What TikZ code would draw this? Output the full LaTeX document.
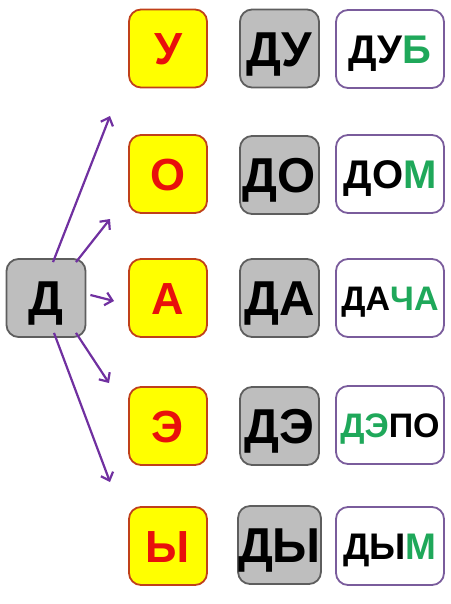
\documentclass[tikz,border=0pt]{standalone}
\usepackage{fontspec}
\setmainfont{Liberation Sans}
\usetikzlibrary{arrows.meta}
\definecolor{yel}{HTML}{FFFF00}
\definecolor{yelb}{HTML}{C0401A}
\definecolor{redt}{HTML}{E8100C}
\definecolor{grayf}{HTML}{BEBEBE}
\definecolor{grayb}{HTML}{5E5E5E}
\definecolor{purb}{HTML}{7A5C9C}
\definecolor{arr}{HTML}{7030A0}
\definecolor{grn}{HTML}{1FA85A}
\tikzset{
  ybox/.style={draw=yelb, fill=yel, line width=1.8pt, rounded corners=12pt,
    minimum width=78pt, minimum height=78pt, inner sep=0pt,
    text=redt, font=\fontsize{45}{45}\selectfont\bfseries,
    text height=32.2pt, text depth=0pt},
  gbox/.style={draw=grayb, fill=grayf, line width=1.8pt, rounded corners=12pt,
    minimum width=79pt, minimum height=78pt, inner sep=0pt,
    font=\fontsize{49}{49}\selectfont\bfseries,
    text height=35.1pt, text depth=0pt},
  wbox/.style={draw=purb, fill=white, line width=1.8pt, rounded corners=12pt,
    minimum width=108pt, minimum height=78pt, inner sep=0pt},
  wbig/.style={font=\fontsize{40}{40}\selectfont\bfseries, text height=28.6pt, text depth=0pt},
  wmid/.style={font=\fontsize{37}{37}\selectfont\bfseries, text height=26.5pt, text depth=0pt},
  wsmall/.style={font=\fontsize{34}{34}\selectfont\bfseries, text height=24.3pt, text depth=0pt},
  con/.style={draw=arr, line width=2.2pt, -{Straight Barb[length=7pt,width=13pt,line width=2.2pt]}}
}
\begin{document}
\begin{tikzpicture}[x=1pt,y=-1pt]
\useasboundingbox (0,0) rectangle (450,604);
% left node
\node[gbox] (d) at (46,298) {Д};
% vowels
\node[ybox] (v1) at (168,48.5) {У};
\node[ybox] (v2) at (168,174) {О};
\node[ybox] (v3) at (168,298) {А};
\node[ybox] (v4) at (168,426) {Э};
\node[ybox] (v5) at (168,546) {Ы};
% syllables
\node[gbox] (s1) at (279.5,48.5) {ДУ};
\node[gbox] (s2) at (279.5,175) {ДО};
\node[gbox] (s3) at (279.5,298) {ДА};
\node[gbox] (s4) at (279.5,426) {ДЭ};
\node[gbox] (s5) at (279.5,545) {ДЫ};
% words
\node[wbox,wbig] (w1) at (390,49) {ДУ\textcolor{grn}{Б}};
\node[wbox,wbig] (w2) at (390,174) {ДО\textcolor{grn}{М}};
\node[wbox,wsmall] (w3) at (390,298) {ДА\textcolor{grn}{ЧА}};
\node[wbox,wsmall] (w4) at (390,425) {\textcolor{grn}{ДЭ}ПО};
\node[wbox,wmid] (w5) at (390,546) {ДЫ\textcolor{grn}{М}};
% arrow ends
\coordinate (e1) at (110,116);
\coordinate (e2) at (110,219);
\coordinate (e3) at (114,301);
\coordinate (e4) at (109,383);
\coordinate (e5) at (110,482);
\draw[con] ([xshift=7pt,yshift=-4pt]d.north) -- (e1);
\draw[con] ([xshift=30pt,yshift=-4pt]d.north) -- (e2);
\draw[con] ([xshift=4pt,yshift=3pt]d.east) -- (e3);
\draw[con] ([xshift=30pt,yshift=5pt]d.south) -- (e4);
\draw[con] ([xshift=8pt,yshift=5pt]d.south) -- (e5);
\end{tikzpicture}
\end{document}
